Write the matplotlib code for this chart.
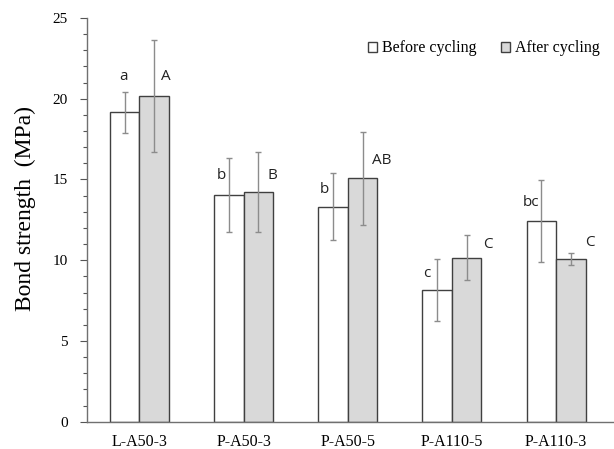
import matplotlib.pyplot as plt
from matplotlib.ticker import MultipleLocator
import numpy as np

groups = ["L-A50-3", "P-A50-3", "P-A50-5", "P-A110-5", "P-A110-3"]
before_mean = [19.15, 14.04, 13.30, 8.15, 12.42]
before_sd = [1.28, 2.28, 2.07, 1.90, 2.52]
after_mean = [20.19, 14.22, 15.06, 10.15, 10.08]
after_sd = [3.47, 2.47, 2.89, 1.38, 0.36]
before_letters = ["a", "b", "b", "c", "bc"]
after_letters = ["A", "B", "AB", "C", "C"]

# letter placement (x offset from group centre, y in MPa), tuned by eye
before_letter_pos = [(-0.15, 21.37), (-0.21, 15.26), (-0.22, 14.4), (-0.24, 9.2), (-0.24, 13.56)]
after_letter_pos = [(0.25, 21.37), (0.28, 15.26), (0.33, 16.2), (0.34, 10.97), (0.32, 11.08)]

fig = plt.figure(figsize=(6.14, 4.49), dpi=100)
ax = fig.add_axes([0.1422, 0.0608, 0.8578, 0.8992])

x = np.arange(len(groups))
w = 0.283
edge = "#404040"
err_kw = dict(ecolor="#8c8c8c", elinewidth=1.0, capsize=2.5, capthick=1.0)

ax.bar(x - w / 2, before_mean, w, yerr=before_sd, color="white",
       edgecolor=edge, linewidth=1.0, error_kw=err_kw, label="Before cycling")
ax.bar(x + w / 2, after_mean, w, yerr=after_sd, color="#d9d9d9",
       edgecolor=edge, linewidth=1.0, error_kw=err_kw, label="After cycling")

for i in range(len(groups)):
    dx, yy = before_letter_pos[i]
    ax.text(x[i] + dx, yy, before_letters[i], ha="center", va="center",
            fontsize=11, family="Open Sans", color="#222222")
    dx, yy = after_letter_pos[i]
    ax.text(x[i] + dx, yy, after_letters[i], ha="center", va="center",
            fontsize=11, family="Open Sans", color="#222222")

ax.set_xlim(-0.5, 4.555)
ax.set_ylim(0, 25)
ax.set_xticks(x)
ax.set_xticklabels(groups, family="Liberation Serif", fontsize=11.5)
ax.tick_params(axis="x", length=0, pad=9)
ax.yaxis.set_major_locator(MultipleLocator(5))
ax.yaxis.set_minor_locator(MultipleLocator(1))
ax.tick_params(axis="y", which="major", length=5, width=0.8, color="#555555", pad=9)
ax.tick_params(axis="y", which="minor", length=3, width=0.8, color="#555555")
for lab in ax.get_yticklabels():
    lab.set_family("Liberation Serif")
    lab.set_fontsize(11)
ax.set_ylabel("Bond strength  (MPa)", family="Liberation Serif", fontsize=17, labelpad=8)
ax.yaxis.set_label_coords(-0.098, 0.527)

for side in ["top", "right"]:
    ax.spines[side].set_visible(False)
for side in ["left", "bottom"]:
    ax.spines[side].set_color("#707070")
    ax.spines[side].set_linewidth(1.0)

ax.legend(loc="upper right", bbox_to_anchor=(1.0, 0.98), ncol=2, frameon=False,
          prop={"family": "Liberation Serif", "size": 11.5},
          handlelength=0.6, handleheight=0.6, handletextpad=0.3, columnspacing=1.5)

plt.savefig("out.png", dpi=100)
plt.close()
